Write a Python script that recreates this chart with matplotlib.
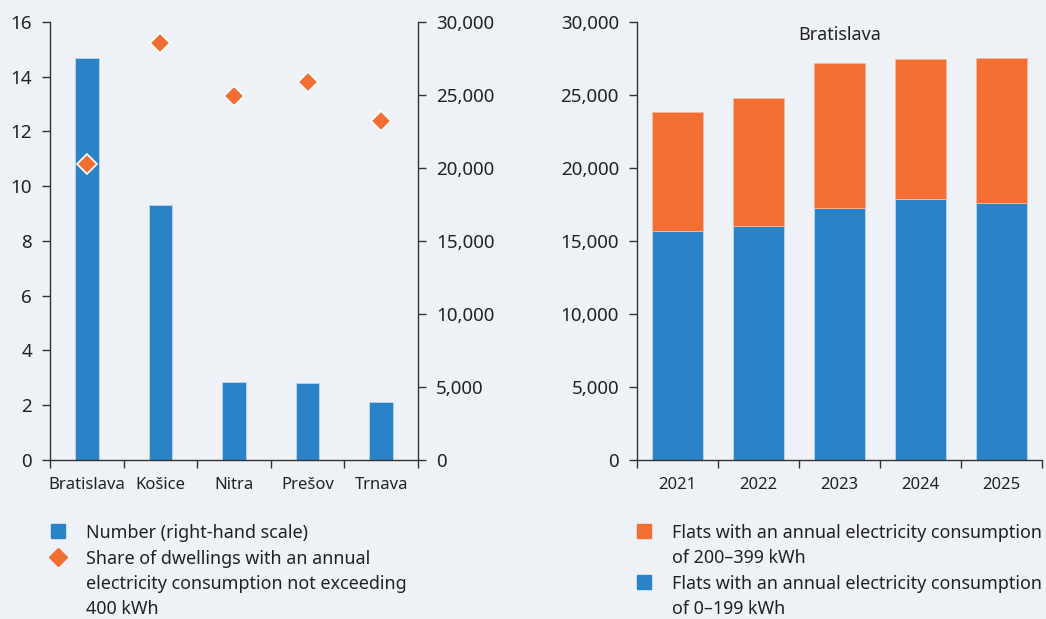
import matplotlib
matplotlib.use("Agg")
import matplotlib.pyplot as plt
from matplotlib.lines import Line2D

plt.rcParams["font.family"] = ["Noto Sans", "DejaVu Sans"]

# regions: number of flats and share of low-consumption dwellings
regions = ["Bratislava", "Košice", "Nitra", "Prešov", "Trnava"]
flats_number = [27550, 17450, 5360, 5300, 3970]
share_low = [10.8, 15.25, 13.3, 13.8, 12.4]

# Bratislava over time, split by consumption band
years = ["2021", "2022", "2023", "2024", "2025"]
flats_0_199 = [15680, 16030, 17260, 17870, 17600]
flats_200_399 = [8120, 8770, 9940, 9620, 9940]

BG = "#eef1f6"
BLUE = "#2a83c7"
ORANGE = "#f26f33"
AXC = "#333333"
TXT = "#222222"
FS_Y = 13.5   # value axes
FS_X = 12     # category axes
FS_L = 12.9   # legend and panel title

fig = plt.figure(figsize=(10.46, 6.19), dpi=100, facecolor=BG)


def style_axis(ax):
    ax.set_facecolor(BG)
    for s in ax.spines.values():
        s.set_color(AXC)
        s.set_linewidth(1.0)
    ax.tick_params(which="major", direction="out", length=6, width=1.0,
                   color=AXC, labelcolor=TXT, labelsize=FS_Y, pad=7)
    ax.tick_params(which="minor", length=0, labelcolor=TXT,
                   labelsize=FS_X, pad=12)
    n = 5
    ax.set_xlim(-0.5, n - 0.5)
    ax.set_xticks([i - 0.5 for i in range(n + 1)])
    ax.set_xticklabels([])


# ---- left panel: bars on the right-hand scale, diamonds on the left
ax_bar = fig.add_axes([0.0478, 0.2569, 0.3518, 0.7076])
style_axis(ax_bar)
ax_bar.bar(range(len(regions)), flats_number, width=0.32, color=BLUE,
           edgecolor="#bcd6ee", linewidth=0.6, zorder=2)
ax_bar.set_ylim(0, 30000)
ax_bar.set_xticks(range(len(regions)), minor=True)
ax_bar.set_xticklabels(regions, minor=True)
ax_bar.spines["top"].set_visible(False)

ax_share = ax_bar.twinx()
ax_share.patch.set_visible(False)
for s in ax_share.spines.values():
    s.set_visible(False)
ax_share.plot(range(len(regions)), share_low, linestyle="none", marker="D",
              markersize=10.5, color=ORANGE, markeredgecolor="white",
              markeredgewidth=1.2, zorder=3)
ax_share.set_ylim(0, 16)
ax_share.yaxis.tick_left()
ax_share.set_yticks(range(0, 17, 2))
ax_share.tick_params(direction="out", length=6, width=1.0, color=AXC,
                     labelcolor=TXT, labelsize=FS_Y, pad=7)

# twinx moves the host ticks to the left, put the number scale back right
ax_bar.yaxis.tick_right()
ax_bar.set_yticks(range(0, 30001, 5000))
ax_bar.set_yticklabels([f"{v:,}" for v in range(0, 30001, 5000)])

# ---- right panel: stacked bars for Bratislava
ax_st = fig.add_axes([0.609, 0.2569, 0.3872, 0.7076])
style_axis(ax_st)
x = range(len(years))
ax_st.bar(x, flats_0_199, width=0.62, color=BLUE, edgecolor="#bcd6ee",
          linewidth=0.6, zorder=2)
ax_st.bar(x, flats_200_399, bottom=flats_0_199, width=0.62, color=ORANGE,
          edgecolor="#f8b99a", linewidth=0.6, zorder=2)
ax_st.set_ylim(0, 30000)
ax_st.set_yticks(range(0, 30001, 5000))
ax_st.set_yticklabels([f"{v:,}" for v in range(0, 30001, 5000)])
ax_st.set_xticks(list(x), minor=True)
ax_st.set_xticklabels(years, minor=True)
ax_st.spines["top"].set_visible(False)
ax_st.spines["right"].set_visible(False)
ax_st.text(0.5, 0.99, "Bratislava", transform=ax_st.transAxes, ha="center",
           va="top", fontsize=FS_L, color=TXT)

# ---- legends
W, H = 1046, 619


def legend_item(px, py, marker, color, text, msize):
    fig.add_artist(Line2D([px / W], [1 - py / H], marker=marker,
                          markersize=msize, color=color, linestyle="none",
                          transform=fig.transFigure))
    fig.text((px + 28) / W, 1 - (py - 7) / H, text, ha="left", va="top",
             fontsize=FS_L, color=TXT, linespacing=1.5)


legend_item(58, 531, "s", BLUE, "Number (right-hand scale)", 9.5)
legend_item(58, 557, "D", ORANGE,
            "Share of dwellings with an annual\n"
            "electricity consumption not exceeding\n400 kWh", 9.5)
legend_item(644, 531, "s", ORANGE,
            "Flats with an annual electricity consumption\nof 200–399 kWh", 9.5)
legend_item(644, 582, "s", BLUE,
            "Flats with an annual electricity consumption\nof 0–199 kWh", 9.5)

fig.savefig("out.png", dpi=100, facecolor=BG)
